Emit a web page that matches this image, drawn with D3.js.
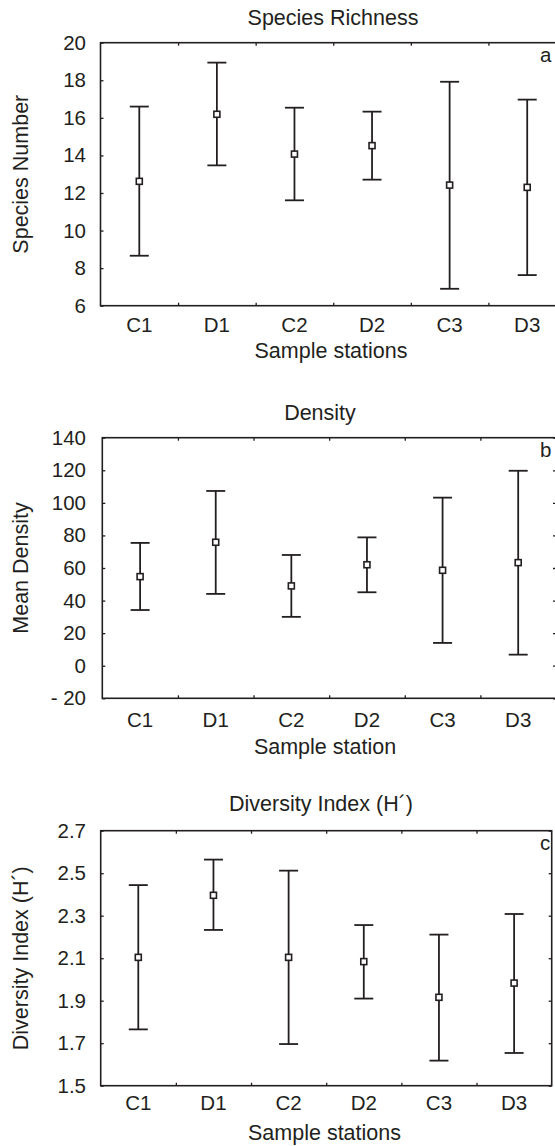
<!DOCTYPE html>
<html>
<head>
<meta charset="utf-8">
<script src="https://cdn.jsdelivr.net/npm/d3@7"></script>
<style>
  body { margin: 0; background: #fff; }
  svg { display: block; overflow: hidden; }
  text { font-family: "Liberation Sans", Arial, sans-serif; fill: #231f20; }
</style>
</head>
<body>
<svg id="chart" width="555" height="1146"></svg>
<script>
// stations on the x axis
const stations = ["C1", "D1", "C2", "D2", "C3", "D3"];

// a - species richness
const richnessMean = [12.62, 16.19, 14.07, 14.52, 12.42, 12.3];
const richnessLow = [8.66, 13.47, 11.61, 12.71, 6.9, 7.63];
const richnessHigh = [16.6, 18.94, 16.54, 16.33, 17.92, 16.97];
const richnessTicks = [6, 8, 10, 12, 14, 16, 18, 20];

// b - density
const densityMean = [54.7, 75.8, 49, 62, 58.6, 63.3];
const densityLow = [34.2, 44.1, 30, 45.1, 14, 6.8];
const densityHigh = [75.4, 107.3, 68, 78.8, 103.2, 119.7];
const densityTicks = [-20, 0, 20, 40, 60, 80, 100, 120, 140];

// c - diversity index
const diversityMean = [2.104, 2.396, 2.104, 2.084, 1.916, 1.983];
const diversityLow = [1.765, 2.233, 1.696, 1.91, 1.618, 1.654];
const diversityHigh = [2.444, 2.564, 2.512, 2.256, 2.211, 2.308];
const diversityTicks = [1.5, 1.7, 1.9, 2.1, 2.3, 2.5, 2.7];

const ink = "#231f20";
const svg = d3.select("#chart");

function drawPanel(opts) {
  const { box, mean, low, high, ticks, fmt } = opts;
  const g = svg.append("g");

  const x = d3.scaleBand().domain(stations).range([box.left, box.right]);
  const xEdge = d3.scaleLinear().domain([0, stations.length]).range([box.left, box.right]);
  const y = d3.scaleLinear().domain(d3.extent(ticks)).range([box.bottom, box.top]);

  // frame
  g.append("rect")
    .attr("x", box.left).attr("y", box.top)
    .attr("width", box.right - box.left).attr("height", box.bottom - box.top)
    .attr("fill", "none").attr("stroke", ink).attr("stroke-width", 1.6);

  // inward ticks at the category edges, top and bottom
  const edges = d3.range(1, stations.length);
  g.append("g").attr("transform", `translate(0,${box.bottom})`)
    .call(d3.axisBottom(xEdge).tickValues(edges).tickSizeInner(-3).tickSizeOuter(0).tickFormat(""));
  g.append("g").attr("transform", `translate(0,${box.top})`)
    .call(d3.axisTop(xEdge).tickValues(edges).tickSizeInner(-3).tickSizeOuter(0).tickFormat(""));

  // category labels
  const xa = g.append("g").attr("transform", `translate(0,${box.bottom})`)
    .call(d3.axisBottom(x).tickSize(0).tickPadding(box.catPad));
  xa.selectAll("text").style("font-size", "20.5px").attr("fill", ink);

  // left axis with labels, right axis ticks only
  const ya = g.append("g").attr("transform", `translate(${box.left},0)`)
    .call(d3.axisLeft(y).tickValues(ticks).tickSizeInner(-3).tickSizeOuter(0).tickPadding(box.left - 86).tickFormat(fmt));
  ya.selectAll("text").style("font-size", "20.5px").attr("fill", ink);
  g.append("g").attr("transform", `translate(${box.right},0)`)
    .call(d3.axisRight(y).tickValues(ticks).tickSizeInner(-3).tickSizeOuter(0).tickFormat(""));

  g.selectAll(".domain").remove();
  g.selectAll(".tick line").attr("stroke", ink).attr("stroke-width", 1.3);

  // error bars
  const cx = d => x(d) + x.bandwidth() / 2;
  const cap = 9.5;
  const bars = g.append("g").attr("stroke", ink).attr("stroke-width", 1.8);
  stations.forEach((s, i) => {
    bars.append("line").attr("x1", cx(s)).attr("x2", cx(s)).attr("y1", y(low[i])).attr("y2", y(high[i]));
    bars.append("line").attr("x1", cx(s) - cap).attr("x2", cx(s) + cap).attr("y1", y(low[i])).attr("y2", y(low[i]));
    bars.append("line").attr("x1", cx(s) - cap).attr("x2", cx(s) + cap).attr("y1", y(high[i])).attr("y2", y(high[i]));
  });
  g.append("g").selectAll("rect").data(stations).join("rect")
    .attr("x", d => cx(d) - 3).attr("y", (d, i) => y(mean[i]) - 3)
    .attr("width", 6).attr("height", 6)
    .attr("fill", "#fff").attr("stroke", ink).attr("stroke-width", 1.6);

  // texts
  g.append("text").attr("x", box.titleX).attr("y", box.titleY)
    .attr("text-anchor", "middle").style("font-size", "21.5px").text(opts.title);
  g.append("text").attr("x", box.xLabelX).attr("y", box.xLabelY)
    .attr("text-anchor", "middle").style("font-size", "21.5px").text(opts.xLabel);
  g.append("text").attr("transform", `translate(28,${(box.top + box.bottom) / 2}) rotate(-90)`)
    .attr("text-anchor", "middle").style("font-size", "21.5px").text(opts.yLabel);
  g.append("text").attr("x", 540).attr("y", box.top + 19)
    .style("font-size", "20.5px").text(opts.letter);
}

drawPanel({
  box: { left: 100.5, right: 566, top: 42.7, bottom: 305.7, catPad: 12, titleX: 333, titleY: 24.5, xLabelX: 331, xLabelY: 358 },
  mean: richnessMean, low: richnessLow, high: richnessHigh, ticks: richnessTicks,
  fmt: d3.format("d"),
  title: "Species Richness", xLabel: "Sample stations", yLabel: "Species Number", letter: "a"
});

drawPanel({
  box: { left: 102.3, right: 556, top: 437.7, bottom: 698.3, catPad: 14, titleX: 320, titleY: 419.5, xLabelX: 325, xLabelY: 754 },
  mean: densityMean, low: densityLow, high: densityHigh, ticks: densityTicks,
  fmt: d => d < 0 ? "- " + Math.abs(d) : d,
  title: "Density", xLabel: "Sample station", yLabel: "Mean Density", letter: "b"
});

drawPanel({
  box: { left: 100.7, right: 551.7, top: 830.7, bottom: 1085.7, catPad: 10, titleX: 321, titleY: 810.7, xLabelX: 324.5, xLabelY: 1139.5 },
  mean: diversityMean, low: diversityLow, high: diversityHigh, ticks: diversityTicks,
  fmt: d3.format(".1f"),
  title: "Diversity Index (H\u00b4)", xLabel: "Sample stations", yLabel: "Diversity Index (H\u00b4)", letter: "c"
});
</script>
</body>
</html>
